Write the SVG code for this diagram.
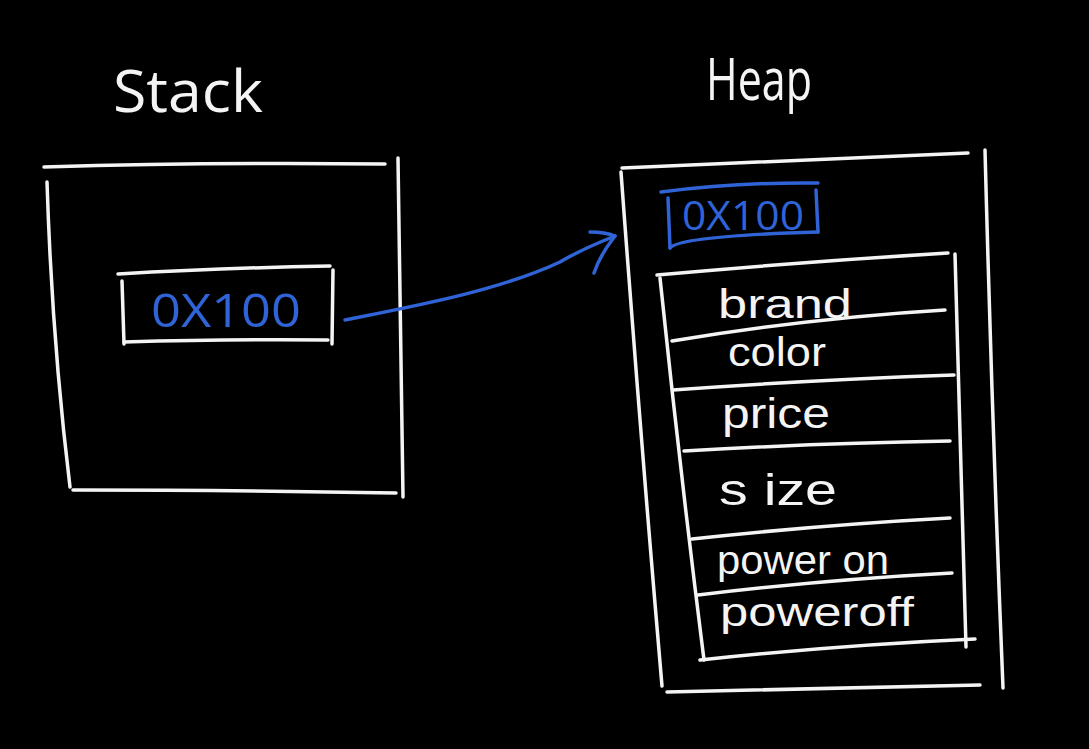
<svg xmlns="http://www.w3.org/2000/svg" width="1089" height="749" viewBox="0 0 1089 749">
<style>
.w{fill:none;stroke:#f4f4f4;stroke-width:3.5;stroke-linecap:round;stroke-linejoin:round}
.b{fill:none;stroke:#2f63d6;stroke-width:3.5;stroke-linecap:round;stroke-linejoin:round}
.t{fill:#f4f4f4;font-family:"Open Sans","Liberation Sans",sans-serif;font-weight:400}
.f{fill:#f4f4f4;font-family:"Liberation Sans","Open Sans",sans-serif;font-weight:400}
.bt{fill:#2f63d6;font-family:"Open Sans","Liberation Sans",sans-serif;font-weight:400}
</style>
<rect width="1089" height="749" fill="#000"/>
<g id="stack">
<text class="t" x="113" y="112" font-size="58" textLength="150" lengthAdjust="spacingAndGlyphs">Stack</text>
<path class="w" d="M44,167 Q210,162 385,164"/>
<path class="w" d="M398,158 Q400,330 403,497"/>
<path class="w" d="M47,182 Q52,340 70,487"/>
<path class="w" d="M73,490 Q240,490 396,493"/>
</g>
<g id="stack-ref">
<path class="w" d="M118,274 Q220,268 330,266"/>
<path class="w" d="M122,281 L124,344"/>
<path class="w" d="M124,342 Q230,339 328,340"/>
<path class="w" d="M333,270 L332,344"/>
<text class="bt" x="151" y="327" font-size="46" textLength="150" lengthAdjust="spacingAndGlyphs">0X100</text>
</g>
<g id="heap">
<text class="t" x="706" y="100" font-size="58" textLength="106" lengthAdjust="spacingAndGlyphs">Heap</text>
<path class="w" d="M622,168 Q800,160 968,153"/>
<path class="w" d="M985,150 Q992,420 1003,688"/>
<path class="w" d="M621,172 Q640,430 662,686"/>
<path class="w" d="M667,692 Q830,688 980,685"/>
</g>
<g id="heap-ref">
<path class="b" d="M661,192 Q740,182 818,183"/>
<path class="b" d="M668,198 L670,248"/>
<path class="b" d="M670,248 Q680,236 818,232"/>
<path class="b" d="M816,190 L818,232"/>
<text class="bt" x="682" y="230" font-size="40" textLength="122" lengthAdjust="spacingAndGlyphs">0X100</text>
</g>
<g id="object">
<path class="w" d="M657,275 Q800,262 948,253"/>
<path class="w" d="M660,278 Q680,470 704,660"/>
<path class="w" d="M955,254 Q960,450 966,647"/>
<path class="w" d="M700,660 Q840,645 975,639"/>
<path class="w" d="M672,341 Q810,318 945,310"/>
<path class="w" d="M673,390 Q810,380 954,375"/>
<path class="w" d="M684,451 Q820,443 950,441"/>
<path class="w" d="M692,539 Q820,525 950,518"/>
<path class="w" d="M698,595 Q820,580 952,573"/>
<text class="f" x="718" y="318" font-size="40" textLength="134" lengthAdjust="spacingAndGlyphs">brand</text>
<text class="f" x="728" y="366" font-size="40" textLength="98" lengthAdjust="spacingAndGlyphs">color</text>
<text class="f" x="722" y="428" font-size="42" textLength="108" lengthAdjust="spacingAndGlyphs">price</text>
<text class="f" x="719" y="505" font-size="44" textLength="118" lengthAdjust="spacingAndGlyphs">s ize</text>
<text class="f" x="717" y="574" font-size="40" textLength="172" lengthAdjust="spacingAndGlyphs">power on</text>
<text class="f" x="720" y="626" font-size="40" textLength="194" lengthAdjust="spacingAndGlyphs">poweroff</text>
</g>
<g id="connectors">
<path class="b" d="M345,320 C420,305 500,290 560,262 C580,250 600,242 615,236"/>
<path class="b" d="M590,232 Q605,232 615,236 Q600,255 594,273"/>
</g>
</svg>
